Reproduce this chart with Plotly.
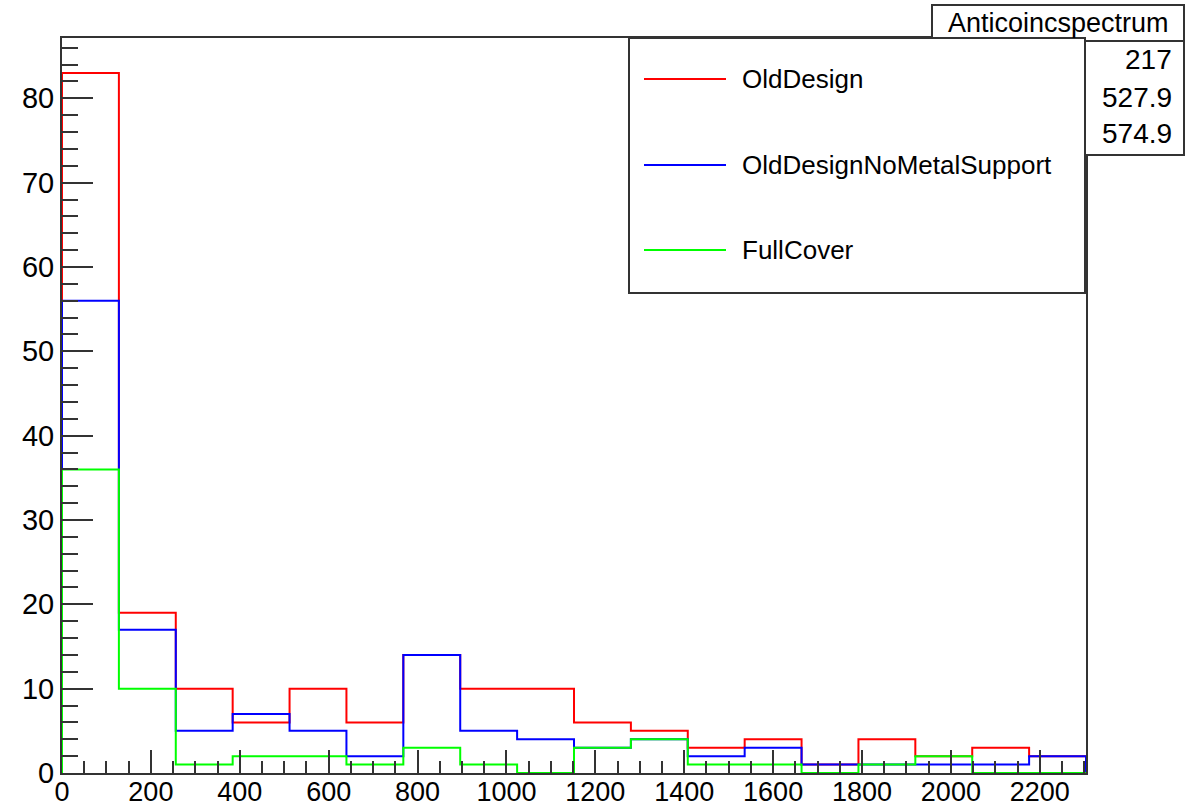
import numpy as np
import plotly.graph_objects as go

# Histogram binning: 18 bins of width 128 between 0 and 2304
bin_edges = np.arange(0, 2305, 128)

series_names = ["OldDesign", "OldDesignNoMetalSupport", "FullCover"]
series_colors = ["#ff0000", "#0000ff", "#00ff00"]

old_design = [83, 19, 10, 6, 10, 6, 14, 10, 10, 6, 5, 3, 4, 1, 4, 2, 3, 2]
old_design_no_metal = [56, 17, 5, 7, 5, 2, 14, 5, 4, 3, 4, 2, 3, 1, 1, 1, 1, 2]
full_cover = [36, 10, 1, 2, 2, 1, 3, 1, 0, 3, 4, 1, 1, 0, 1, 2, 0, 0]
series_values = [old_design, old_design_no_metal, full_cover]

# Statistics box of the first histogram
stats_title = "Anticoincspectrum"
stats_numbers = ["217", "527.9", "574.9"]

x_ticks = list(range(0, 2201, 200))
y_ticks = list(range(0, 81, 10))

W, H = 1185, 806
L, R, T, B = 62, 1086, 38, 773  # frame edges in pixels
FONT = "Liberation Sans, Arial, Helvetica, sans-serif"


def px(x):
    return (x - L) / (R - L)


def py(y):
    return (B - y) / (B - T)


fig = go.Figure()

for name, color, vals in zip(series_names, series_colors, series_values):
    xs = [bin_edges[0]] + list(bin_edges) + [bin_edges[-1]]
    ys = [0] + list(vals) + [vals[-1], 0]
    fig.add_trace(go.Scatter(
        x=xs, y=ys, mode="lines", name=name,
        line=dict(color=color, width=2, shape="hv"),
        showlegend=False, hoverinfo="skip",
    ))

ymax = max(max(v) for v in series_values) * 1.05

axis_color = "#333333"
fig.update_xaxes(
    range=[bin_edges[0], bin_edges[-1]],
    tickvals=x_ticks, ticktext=[str(v) for v in x_ticks],
    ticks="inside", ticklen=23, tickwidth=1.5, tickcolor=axis_color,
    minor=dict(dtick=50, tick0=0, ticks="inside", ticklen=12, tickwidth=1.5, tickcolor=axis_color),
    showline=True, linecolor=axis_color, linewidth=2, mirror=True,
    showgrid=False, zeroline=False, automargin=False,
    tickfont=dict(family=FONT, size=27, color="#000000"),
    ticklabelstandoff=-6,
)
fig.update_yaxes(
    range=[0, ymax],
    tickvals=y_ticks, ticktext=[str(v) for v in y_ticks],
    ticks="inside", ticklen=31, tickwidth=1.5, tickcolor=axis_color,
    minor=dict(dtick=2, tick0=0, ticks="inside", ticklen=16, tickwidth=1.5, tickcolor=axis_color),
    showline=True, linecolor=axis_color, linewidth=2, mirror=True,
    showgrid=False, zeroline=False, automargin=False,
    tickfont=dict(family=FONT, size=29, color="#000000"),
    ticklabelstandoff=0,
)

shapes = []
annotations = []

# Statistics box (drawn first so the legend box covers its left part)
sx0, sx1, sy0, sy1, sh = 932, 1184, 5, 155, 41
shapes.append(dict(type="rect", xref="paper", yref="paper",
                   x0=px(sx0), x1=px(sx1), y0=py(sy1), y1=py(sy0),
                   line=dict(color=axis_color, width=2), fillcolor="white", layer="above"))
shapes.append(dict(type="line", xref="paper", yref="paper",
                   x0=px(sx0), x1=px(sx1), y0=py(sh), y1=py(sh),
                   line=dict(color=axis_color, width=2), layer="above"))
annotations.append(dict(xref="paper", yref="paper", x=px((sx0 + sx1) / 2), y=py(23),
                        text=stats_title, showarrow=False, xanchor="center", yanchor="middle",
                        font=dict(family=FONT, size=27, color="#000000")))
for txt, yc in zip(stats_numbers, [60, 98, 133]):
    annotations.append(dict(xref="paper", yref="paper", x=px(1174), y=py(yc),
                            text=txt, showarrow=False, xanchor="right", yanchor="middle",
                            font=dict(family=FONT, size=28, color="#000000")))

# Legend box
lx0, lx1, ly0, ly1 = 629, 1085, 38, 293
shapes.append(dict(type="rect", xref="paper", yref="paper",
                   x0=px(lx0), x1=px(lx1), y0=py(ly1), y1=py(ly0),
                   line=dict(color=axis_color, width=2), fillcolor="white", layer="above"))
for name, color, yc in zip(series_names, series_colors, [79, 165, 250]):
    shapes.append(dict(type="line", xref="paper", yref="paper",
                       x0=px(644), x1=px(726), y0=py(yc), y1=py(yc),
                       line=dict(color=color, width=2), layer="above"))
    annotations.append(dict(xref="paper", yref="paper", x=px(740), y=py(yc),
                            text=name, showarrow=False, xanchor="left", yanchor="middle",
                            font=dict(family=FONT, size=26, color="#000000")))

fig.update_layout(
    width=W, height=H,
    margin=dict(l=L, r=W - R, t=T, b=H - B, pad=0),
    paper_bgcolor="white", plot_bgcolor="white",
    shapes=shapes, annotations=annotations,
    showlegend=False,
)

fig.write_html("out.html")
